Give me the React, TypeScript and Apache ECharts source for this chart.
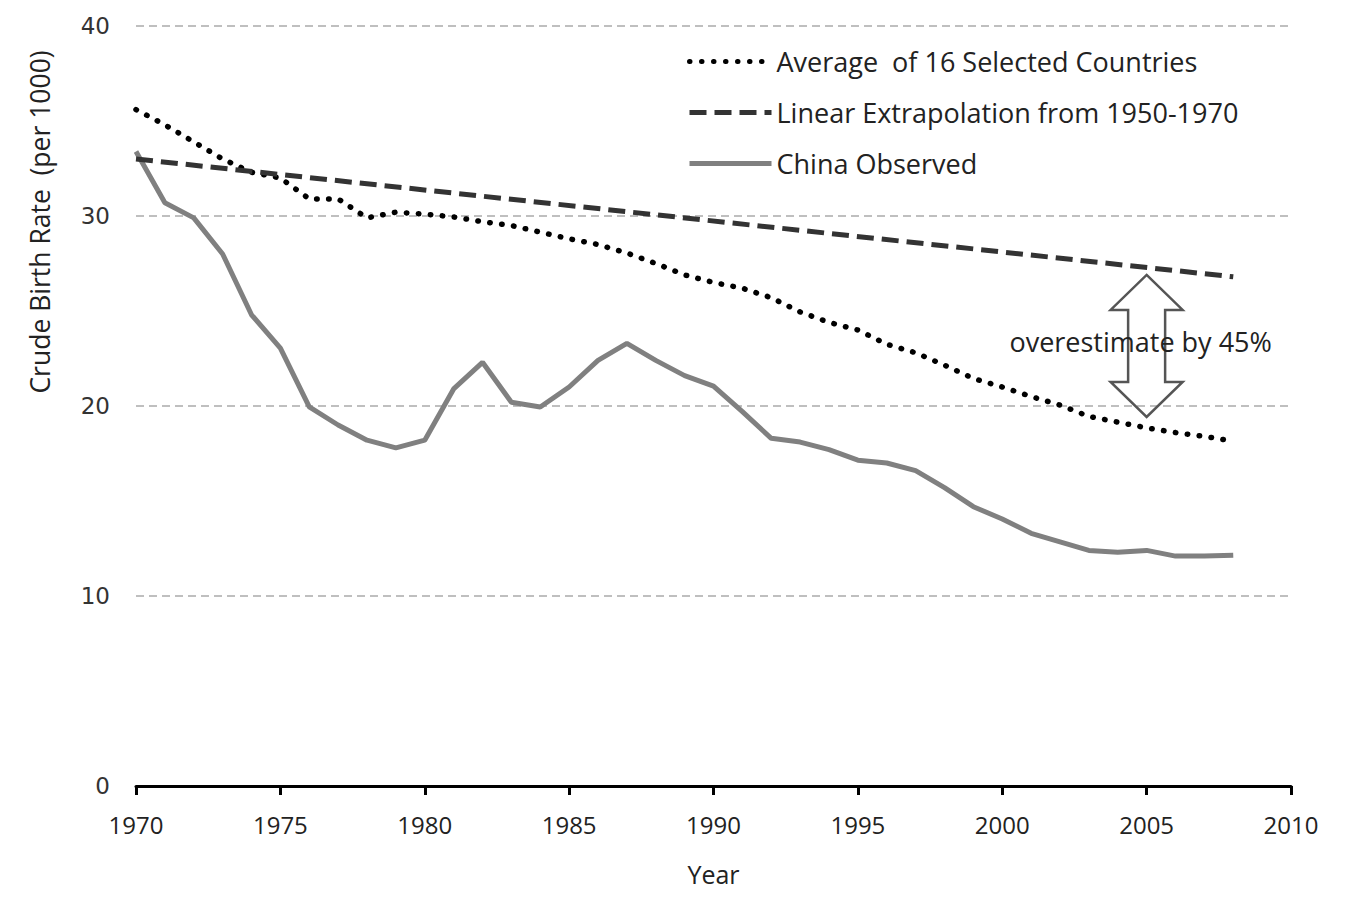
import React, { useEffect, useRef } from "react";
import * as echarts from "echarts";

const years = [1970, 1971, 1972, 1973, 1974, 1975, 1976, 1977, 1978, 1979, 1980, 1981, 1982, 1983, 1984, 1985, 1986, 1987, 1988, 1989, 1990, 1991, 1992, 1993, 1994, 1995, 1996, 1997, 1998, 1999, 2000, 2001, 2002, 2003, 2004, 2005, 2006, 2007, 2008];

const averageSelected = [35.6, 34.8, 33.9, 33.0, 32.3, 32.0, 30.9, 30.9, 29.9, 30.2, 30.1, 29.95, 29.7, 29.5, 29.15, 28.8, 28.5, 28.05, 27.5, 26.9, 26.5, 26.2, 25.7, 24.95, 24.4, 24.0, 23.25, 22.8, 22.15, 21.45, 21.0, 20.5, 20.05, 19.45, 19.15, 18.85, 18.6, 18.4, 18.15];

const chinaObserved = [33.4, 30.7, 29.9, 28.0, 24.8, 23.05, 19.95, 19.0, 18.2, 17.8, 18.2, 20.9, 22.3, 20.2, 19.95, 21.0, 22.4, 23.3, 22.4, 21.6, 21.05, 19.7, 18.3, 18.1, 17.7, 17.15, 17.0, 16.6, 15.7, 14.7, 14.05, 13.3, 12.85, 12.4, 12.3, 12.4, 12.1, 12.1, 12.15];

const linearYears = [1970, 2008];
const linearValues = [33.0, 26.8];

const xTicks = [1970, 1975, 1980, 1985, 1990, 1995, 2000, 2005, 2010];
const yTicks = [0, 10, 20, 30, 40];

const seriesNames = ["Average  of 16 Selected Countries", "Linear Extrapolation from 1950-1970", "China Observed"];
const annotationText = "overestimate by 45%";
const yAxisTitle = "Crude Birth Rate  (per 1000)";
const arrowYear = 2005;
const arrowTop = 26.9;
const arrowBottom = 19.42;

const pair = (xs: number[], ys: number[]) => xs.map((x, i) => [x, ys[i]]);

export default function App() {
  const ref = useRef<HTMLDivElement>(null);
  useEffect(() => {
    if (!ref.current) return;
    const chart = echarts.init(ref.current, undefined, { renderer: "svg" });
    const font = "'Open Sans', sans-serif";
    const yTitle = {
      type: "text",
      x: 32,
      y: 214,
      rotation: Math.PI / 2,
      style: {
        text: yAxisTitle,
        fontFamily: font,
        fontSize: 26.5,
        fill: "#222",
        textAlign: "center",
        textVerticalAlign: "middle",
      },
    };
    chart.setOption({
      animation: false,
      backgroundColor: "#ffffff",
      grid: { left: 128, right: 52, top: 18, bottom: 105, containLabel: false, outerBoundsMode: "none" },
      legend: {
        orient: "vertical",
        left: 674,
        top: 35,
        itemWidth: 82,
        itemHeight: 24,
        itemGap: 24,
        data: seriesNames,
        itemStyle: { opacity: 0 },
        lineStyle: { width: 5 },
        textStyle: { fontFamily: font, fontSize: 27, color: "#222", lineHeight: 24, padding: [0, 0, 0, 0] },
      },
      xAxis: {
        type: "value",
        min: xTicks[0],
        max: xTicks[xTicks.length - 1],
        interval: 5,
        name: "Year",
        nameLocation: "middle",
        nameGap: 75,
        nameTextStyle: { fontFamily: font, fontSize: 25, color: "#222" },
        axisLine: { show: true, lineStyle: { color: "#000", width: 3 } },
        axisTick: { show: true, length: 9, lineStyle: { color: "#000", width: 3 } },
        axisLabel: { fontFamily: font, fontSize: 24, color: "#222", margin: 26, formatter: (v: number) => String(v) },
        splitLine: { show: false },
      },
      yAxis: {
        type: "value",
        min: yTicks[0],
        max: yTicks[yTicks.length - 1],
        interval: 10,
        axisLine: { show: false },
        axisTick: { show: false },
        axisLabel: { fontFamily: "'DejaVu Sans', sans-serif", fontSize: 23, color: "#333", margin: 26 },
        splitLine: { show: true, lineStyle: { color: "#aaaaaa", width: 1.5, type: [8, 5] } },
      },
      series: [
        {
          name: seriesNames[0],
          type: "line",
          data: pair(years, averageSelected),
          symbol: "none",
          lineStyle: { color: "#000", width: 5.5, type: [0.5, 11.5], cap: "round" },
          itemStyle: { color: "#000" },
          z: 3,
        },
        {
          name: seriesNames[1],
          type: "line",
          data: pair(linearYears, linearValues),
          symbol: "none",
          lineStyle: { color: "#333", width: 5, type: [17, 8] },
          itemStyle: { color: "#333" },
          z: 4,
        },
        {
          name: seriesNames[2],
          type: "line",
          data: pair(years, chinaObserved),
          symbol: "none",
          lineStyle: { color: "#808080", width: 5 },
          itemStyle: { color: "#808080" },
          z: 2,
        },
      ],
      graphic: [yTitle],
    });

    const [cx, yt] = chart.convertToPixel({ gridIndex: 0 }, [arrowYear, arrowTop]) as number[];
    const [, yb] = chart.convertToPixel({ gridIndex: 0 }, [arrowYear, arrowBottom]) as number[];
    const headH = 35;
    const headW = 36;
    const shaftW = 18.5;
    const pts = [
      [cx, yt],
      [cx + headW, yt + headH],
      [cx + shaftW, yt + headH],
      [cx + shaftW, yb - headH],
      [cx + headW, yb - headH],
      [cx, yb],
      [cx - headW, yb - headH],
      [cx - shaftW, yb - headH],
      [cx - shaftW, yt + headH],
      [cx - headW, yt + headH],
    ];
    chart.setOption({
      graphic: [
        yTitle,
        {
          type: "polygon",
          shape: { points: pts },
          style: { fill: "transparent", stroke: "#555", lineWidth: 2.5 },
          z: 10,
        },
        {
          type: "text",
          x: cx - 6,
          y: (yt + yb) / 2 - 4,
          style: {
            text: annotationText,
            fontFamily: font,
            fontSize: 27,
            fill: "#222",
            textAlign: "center",
            textVerticalAlign: "middle",
          },
          z: 11,
        },
      ],
    });
    return () => chart.dispose();
  }, []);
  return <div ref={ref} style={{ width: 1335, height: 883 }} />;
}
